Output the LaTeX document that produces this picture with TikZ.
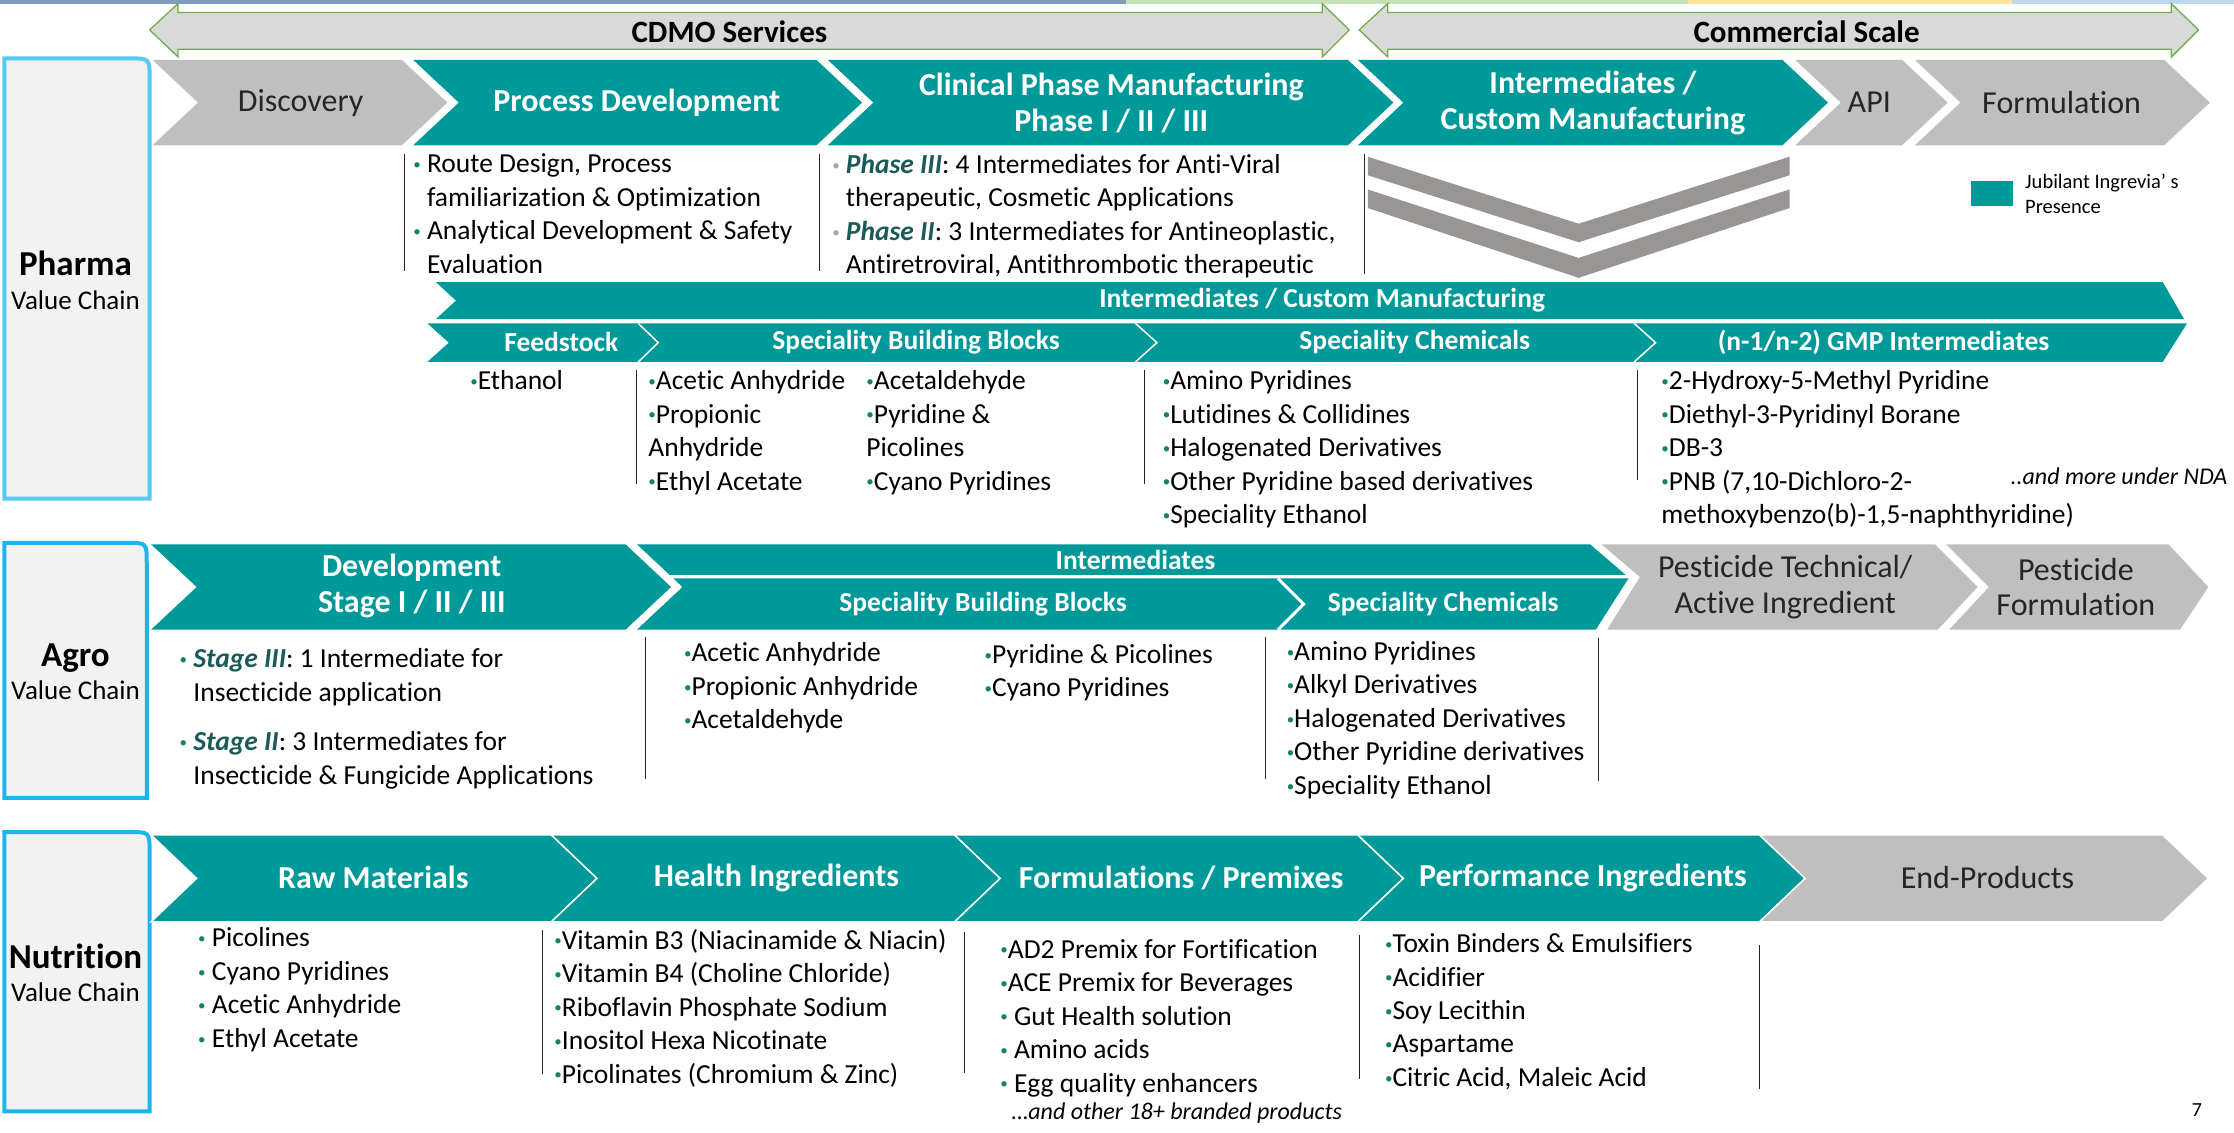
\documentclass[tikz,border=0pt]{standalone}
\usepackage{xcolor}
\usepackage{fontspec}
\setmainfont{Carlito}[Ligatures={NoCommon}]
\usepackage{tikz}
\usetikzlibrary{positioning}

\definecolor{jteal}{HTML}{009999}
\definecolor{chevgray}{HTML}{BFBFBF}
\definecolor{bandgray}{HTML}{D9D9D9}
\definecolor{bandgreen}{HTML}{70AD47}
\definecolor{pharmablue}{HTML}{55CBF4}
\definecolor{boxblue}{HTML}{1DB5EE}
\definecolor{boxfill}{HTML}{F2F2F2}
\definecolor{bulgreen}{HTML}{15845C}
\definecolor{bulgray}{HTML}{A6A6A6}
\definecolor{stagecol}{HTML}{1C5A5A}
\definecolor{vgray}{HTML}{999595}
\definecolor{stripblue}{HTML}{7F9CC0}
\definecolor{stripgreen}{HTML}{C5E0B4}
\definecolor{stripyellow}{HTML}{FFE699}
\definecolor{stripsky}{HTML}{BDD7EE}

% chevron: options, left x, right x, top y, bottom y
\newcommand{\chevd}{32}
\newcommand{\chevron}[5]{%
  \fill[#1] (#2,#4) -- (#3,#4) -- ({#3+\chevd},{(#4+#5)/2}) -- (#3,#5) -- (#2,#5) -- ({#2+\chevd},{(#4+#5)/2}) -- cycle;}
\newcommand{\dotmark}{\raisebox{0.25ex}{\fontsize{15}{15}\selectfont •}}
\newcommand{\bul}{\textcolor{bulgreen}{\dotmark}}
\newcommand{\gbul}{\textcolor{bulgray}{\dotmark}}
\newcommand{\stagename}[1]{\textcolor{stagecol}{\bfseries\itshape #1}}
\newcommand{\skipbul}{\hphantom{\dotmark\ }}

\begin{document}
\begin{tikzpicture}[x=1.425pt, y=-1.425pt]
    \tikzstyle{tealtext}=[text=white, font=\bfseries\fontsize{32}{36}\selectfont, align=center, inner sep=0pt]
    \tikzstyle{graytext}=[text=black!85, font=\fontsize{32}{36}\selectfont, align=center, inner sep=0pt]
    \tikzstyle{subtext}=[text=white, font=\bfseries\fontsize{27.5}{31}\selectfont, inner sep=0pt]
    \tikzstyle{listtext}=[anchor=north west, align=left, inner sep=0pt, font=\fontsize{27.5}{33.5}\selectfont]
    \tikzstyle{divider}=[draw=black!85, line width=1pt]
    \tikzstyle{scalearrow}=[fill=bandgray, draw=bandgreen, line width=1.3pt]
    \tikzstyle{chainbox}=[fill=boxfill, line width=4pt]
    \tikzstyle{chainname}=[font=\bfseries\fontsize{35}{40}\selectfont, inner sep=0pt]
    \tikzstyle{chainsub}=[font=\fontsize{27}{32}\selectfont, inner sep=0pt]

    \useasboundingbox (0,0) rectangle (1568,795);
    \fill[white] (0,0) rectangle (1568,795);

    % header strip
    \fill[stripblue] (0,0) rectangle (790,3);
    \fill[stripgreen] (790,0) rectangle (1185,3);
    \fill[stripyellow] (1185,0) rectangle (1412,3);
    \fill[stripsky] (1412,0) rectangle (1568,3);

    % CDMO / commercial arrows
    \draw[scalearrow] (105,21) -- (125,2.5) -- (125,8.7) -- (928,8.7) -- (928,2.5) -- (947,21) -- (928,40) -- (928,34.6) -- (125,34.6) -- (125,40) -- cycle;
    \draw[scalearrow] (954,21) -- (974,2.5) -- (974,8.7) -- (1524,8.7) -- (1524,2.5) -- (1543,21) -- (1524,40) -- (1524,34.6) -- (974,34.6) -- (974,40) -- cycle;
    \node[font=\bfseries\fontsize{31}{35}\selectfont, inner sep=0pt] (cdmo) at (512,22) {CDMO Services};
    \node[font=\bfseries\fontsize{31}{35}\selectfont, inner sep=0pt] (commercial) at (1268,22) {Commercial Scale};

    % value chain boxes
    \draw[chainbox, draw=pharmablue] (3,350) -- (3,41) -- (91,41) .. controls (105,41) .. (105,55) -- (105,350) -- cycle;
    \draw[chainbox, draw=boxblue] (3,560) -- (3,381) -- (89,381) .. controls (103,381) .. (103,395) -- (103,560) -- cycle;
    \draw[chainbox, draw=boxblue] (3,780) -- (3,584) -- (91,584) .. controls (105,584) .. (105,598) -- (105,780) -- cycle;
    \node[chainname] (pharma) at (53,185) {Pharma};
    \node[chainsub, below=14pt of pharma] (pharmavc) {Value Chain};
    \node[chainname] (agro) at (53,462) {Agro};
    \node[chainsub, below=8pt of agro] (agrovc) {Value Chain};
    \node[chainname] (nutrition) at (53,671) {Nutrition};
    \node[chainsub, below=14pt of nutrition] (nutritionvc) {Value Chain};

    % pharma chain
    \chevron{chevgray}{107}{282}{42}{102}
    \chevron{jteal}{290}{573}{42}{102}
    \chevron{jteal}{581}{946}{42}{102}
    \chevron{jteal}{953}{1251}{42}{102}
    \chevron{chevgray}{1260}{1335}{42}{102}
    \chevron{chevgray}{1344}{1519}{42}{102}
    \node[graytext] (discovery) at (211,72) {Discovery};
    \node[tealtext] (procdev) at (447,72) {Process Development};
    \node[tealtext] (clinical) at (780,72) {Clinical Phase Manufacturing\\Phase I / II / III};
    \node[tealtext] (intercustom) at (1118,72) {Intermediates /\\Custom Manufacturing};
    \node[graytext] (api) at (1312,72) {API};
    \node[graytext] (formulation) at (1447,72) {Formulation};

    \draw[divider] (284,108) -- (284,190);
    \draw[divider] (575,108) -- (575,190);
    \draw[divider] (958,108) -- (958,192);
    \node[listtext] (pdlist) at (290,108) {\bul{} Route Design, Process\\\skipbul familiarization \& Optimization\\\bul{}  Analytical Development \& Safety\\\skipbul Evaluation};
    \node[listtext] (cplist) at (584,108) {\gbul{} \stagename{Phase III}: 4 Intermediates for Anti-Viral\\\skipbul therapeutic, Cosmetic Applications\\\gbul{} \stagename{Phase II}: 3 Intermediates for Antineoplastic,\\\skipbul Antiretroviral, Antithrombotic therapeutic};

    % down chevrons
    \fill[vgray] (960,110) -- (1108,157) -- (1256,110) -- (1256,123) -- (1108,170) -- (960,123) -- cycle;
    \fill[vgray] (960,133) -- (1108,181) -- (1256,133) -- (1256,146) -- (1108,195) -- (960,146) -- cycle;

    % legend
    \node[fill=jteal, minimum width=42pt, minimum height=25pt, inner sep=0pt] (legendkey) at (1398,136) {};
    \node[anchor=west, align=left, inner sep=0pt, font=\fontsize{20.5}{25.5}\selectfont, right=12pt of legendkey] (legendtext) {Jubilant Ingrevia’ s\\Presence};

    % intermediates / custom manufacturing band
    \fill[jteal] (306,198) -- (1518,198) -- (1533,224) -- (306,224) -- (320,211) -- cycle;
    \fill[jteal] (300,227) -- (1535,227) -- (1518,254) -- (300,254) -- (315,240.5) -- cycle;
    \draw[white, line width=1.5pt] (448,227) -- (462,240.5) -- (448,254);
    \draw[white, line width=1.5pt] (797,227) -- (812,240.5) -- (797,254);
    \draw[white, line width=1.5pt] (1147,227) -- (1162,240.5) -- (1147,254);
    \node[subtext] (icm) at (928,211) {Intermediates / Custom Manufacturing};
    \node[subtext] (feedstock) at (394,240) {Feedstock};
    \node[subtext] (pharmasbb) at (643,240) {Speciality Building Blocks};
    \node[subtext] (pharmasc) at (993,240) {Speciality Chemicals};
    \node[subtext] (gmp) at (1322,240) {(n-1/n-2) GMP Intermediates};

    \draw[divider] (447,260) -- (447,340);
    \draw[divider] (803,260) -- (803,340);
    \draw[divider] (1149,260) -- (1149,337);
    \node[listtext] (feedlist) at (330,260) {\bul Ethanol};
    \node[listtext] (sbblista) at (455,260) {\bul Acetic Anhydride\\\bul Propionic\\Anhydride\\\bul Ethyl Acetate};
    \node[listtext] (sbblistb) at (608,260) {\bul Acetaldehyde\\\bul Pyridine \&\\Picolines\\\bul Cyano Pyridines};
    \node[listtext] (sclist) at (816,260) {\bul Amino Pyridines\\\bul Lutidines \& Collidines\\\bul Halogenated Derivatives\\\bul Other Pyridine based derivatives\\\bul Speciality Ethanol};
    \node[listtext] (gmplist) at (1166,260) {\bul 2-Hydroxy-5-Methyl Pyridine\\\bul Diethyl-3-Pyridinyl Borane\\\bul DB-3\\\bul PNB (7,10-Dichloro-2-\\methoxybenzo(b)-1,5-naphthyridine)};
    \node[anchor=west, inner sep=0pt, font=\itshape\fontsize{24}{28}\selectfont] (nda) at (1411,334) {..and more under NDA};

    % agro chain
    \chevron{jteal}{106}{439}{382}{442}
    \fill[jteal] (447,382) -- (1116,382) -- (1141,403.5) -- (470,403.5) -- cycle;
    \fill[jteal] (472.6,406) -- (1143,406) -- (1120,442) -- (447,442) -- (479,412) -- cycle;
    \draw[white, line width=3pt] (897,406) -- (915,424) -- (897,442);
    \fill[chevgray] (1124,382) -- (1358,382) -- (1388,412) -- (1360,442) -- (1128,442) -- (1151,405) -- cycle;
    \fill[chevgray] (1366,382) -- (1522,382) -- (1550,412) -- (1530,442) -- (1368,442) -- (1396,412) -- cycle;
    \node[tealtext] (develop) at (289,411) {Development\\Stage I / II / III};
    \node[subtext] (agroint) at (797,393) {Intermediates};
    \node[subtext] (agrosbb) at (690,424) {Speciality Building Blocks};
    \node[subtext] (agrosc) at (1013,424) {Speciality Chemicals};
    \node[graytext] (pesttech) at (1253,412) {Pesticide Technical/\\Active Ingredient};
    \node[graytext] (pestform) at (1457,412) {Pesticide\\Formulation};

    \draw[divider] (453,447) -- (453,547);
    \draw[divider] (888,447) -- (888,547);
    \draw[divider] (1122,448) -- (1122,548);
    \node[listtext] (devlist) at (126,455) {\bul{} \stagename{Stage III}: 1 Intermediate for\\\skipbul Insecticide application\\[16pt]\bul{} \stagename{Stage II}: 3 Intermediates for\\\skipbul Insecticide \& Fungicide Applications};
    \node[listtext] (agrosbbla) at (480,451) {\bul Acetic Anhydride\\\bul Propionic Anhydride\\\bul Acetaldehyde};
    \node[listtext] (agrosbblb) at (691,452) {\bul Pyridine \& Picolines\\\bul Cyano Pyridines};
    \node[listtext] (agroscl) at (903,450) {\bul Amino Pyridines\\\bul Alkyl Derivatives\\\bul Halogenated Derivatives\\\bul Other Pyridine derivatives\\\bul Speciality Ethanol};

    % nutrition chain
    \chevron{jteal, draw=white, line width=1.5pt}{106}{387}{586}{647}
    \chevron{jteal, draw=white, line width=1.5pt}{387}{670}{586}{647}
    \chevron{jteal, draw=white, line width=1.5pt}{670}{953}{586}{647}
    \chevron{jteal, draw=white, line width=1.5pt}{953}{1235}{586}{647}
    \chevron{chevgray, draw=white, line width=1.5pt}{1235}{1518}{586}{647}
    \node[tealtext] (rawmat) at (262,616) {Raw Materials};
    \node[tealtext] (health) at (545,616) {Health Ingredients};
    \node[tealtext] (premix) at (829,616) {Formulations / Premixes};
    \node[tealtext] (perform) at (1111,616) {Performance Ingredients};
    \node[graytext] (endprod) at (1395,616) {End-Products};

    \draw[divider] (381,653) -- (381,754);
    \draw[divider] (677,654) -- (677,753);
    \draw[divider] (954,656) -- (954,757);
    \draw[divider] (1235,663) -- (1235,764);
    \node[listtext] (rawlist) at (139,651) {\bul{} Picolines\\\bul{} Cyano Pyridines\\\bul{} Acetic Anhydride\\\bul{} Ethyl Acetate};
    \node[listtext] (healthlist) at (389,652) {\bul Vitamin B3 (Niacinamide \& Niacin)\\\bul Vitamin B4 (Choline Chloride)\\\bul Riboflavin Phosphate Sodium\\\bul Inositol Hexa Nicotinate\\\bul Picolinates (Chromium \& Zinc)};
    \node[listtext] (premixlist) at (702,659) {\bul AD2 Premix for Fortification\\\bul ACE Premix for Beverages\\\bul{} Gut Health solution\\\bul{} Amino acids\\\bul{} Egg quality enhancers};
    \node[anchor=west, inner sep=0pt, font=\itshape\fontsize{24}{28}\selectfont] (branded) at (710,781) {…and other 18+ branded products};
    \node[listtext] (performlist) at (972,655) {\bul Toxin Binders \& Emulsifiers\\\bul Acidifier\\\bul Soy Lecithin\\\bul Aspartame\\\bul Citric Acid, Maleic Acid};

    \node[font=\fontsize{20}{24}\selectfont, inner sep=0pt] (pageno) at (1542,779) {7};
\end{tikzpicture}
\end{document}
